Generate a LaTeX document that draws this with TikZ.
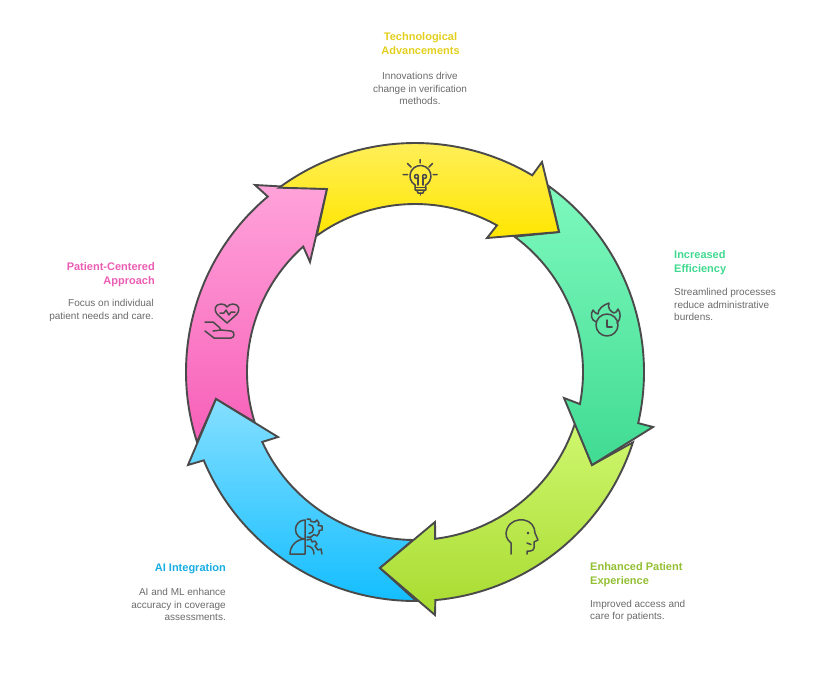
\documentclass[tikz,border=0pt]{standalone}
\usepackage{fontspec}
\setmainfont{Liberation Sans}
\definecolor{edgegray}{HTML}{4A4A4A}
\definecolor{textgray}{HTML}{6A6A6A}
\definecolor{techtitle}{HTML}{E3CF1E}
\definecolor{efftitle}{HTML}{3FD98F}
\definecolor{exptitle}{HTML}{93BF33}
\definecolor{aititle}{HTML}{17ADE3}
\definecolor{cartitle}{HTML}{EA5DB2}
\definecolor{HeadPink}{HTML}{FFA3DA}
\definecolor{TailPink}{HTML}{F75FB8}
\definecolor{HeadBlue}{HTML}{85DFFF}
\definecolor{TailBlue}{HTML}{14BEFF}
\definecolor{HeadLime}{HTML}{CFF76F}
\definecolor{TailLime}{HTML}{A8DB30}
\definecolor{HeadGreen}{HTML}{7EF9BE}
\definecolor{TailGreen}{HTML}{40DB92}
\definecolor{HeadYellow}{HTML}{FFF066}
\definecolor{TailYellow}{HTML}{FFE600}
\tikzset{
         ringarrow/.style={draw=edgegray,line width=1.9pt,line join=miter,miter limit=8},
         icon/.style={draw=edgegray,line width=1.5pt,line cap=round,line join=round},
         titletext/.style={font=\fontsize{11}{14}\selectfont\bfseries,inner sep=0pt},
         bodytext/.style={font=\fontsize{10}{12.6}\selectfont,text=textgray,inner sep=0pt}
        }
\begin{document}
\begin{tikzpicture}[x=1pt,y=-1pt]
\useasboundingbox(0,0)rectangle(840,672);
\begin{scope}[shift={(415,372)}]
% the five arrows of the ring
\draw[ringarrow,top color=HeadPink,bottom color=TailPink](162.2:229)arc[start angle=162.2,end angle=230,radius=229]--(-160,-187)--(-88,-183)--(-105,-110)--(228.3:168)arc[start angle=228.3,end angle=162.6,radius=168]--(-199,27)--cycle;
\draw[ringarrow,top color=HeadBlue,bottom color=TailBlue](89.7:229)arc[start angle=89.7,end angle=157.3,radius=229]--(-227,93)--(-199,27)--(-137,65)--(155.4:168)arc[start angle=155.4,end angle=90.7,radius=168]--(-35,196)--cycle;
\draw[ringarrow,top color=HeadLime,bottom color=TailLime](17.9:229)arc[start angle=17.9,end angle=84.9,radius=229]--(20,243)--(-35,196)--(20,150)--(83.1:168)arc[start angle=83.1,end angle=17.8,radius=168]--(177,93)--cycle;
\draw[ringarrow,top color=HeadGreen,bottom color=TailGreen](-54.4:229)arc[start angle=-54.4,end angle=12.9,radius=229]--(238,55)--(177,93)--(149,26)--(11:168)arc[start angle=11,end angle=-53.7,radius=168]--(144,-140)--cycle;
\draw[ringarrow,top color=HeadYellow,bottom color=TailYellow](-126.4:229)arc[start angle=-126.4,end angle=-59.2,radius=229]--(127,-210)--(144,-140)--(72,-134)--(-60.8:168)arc[start angle=-60.8,end angle=-125.8,radius=168]--(-88,-183)--cycle;
\end{scope}
% lamp
\draw[icon](415.2,185.1)arc[start angle=120,end angle=420,radius=10.5]--(425.8,190)--(415.2,190)--cycle;
\draw[icon](417,190.5)--(418,193)--(423,193)--(424,190.5);
\draw[icon](420.5,193)--(420.5,195);
\draw[icon](418,185)--(418,178)(423,185)--(423,178);
\draw[icon](416.5,176.5)circle[radius=2](424.5,176.5)circle[radius=2];
\draw[icon](415.5,187.5)--(425.5,187.5);
\draw[icon](420,159.5)--(420,163)(407.5,163.5)--(411,167)(432.5,163.5)--(429,167)(403,174.5)--(407.5,174.5)(433,174.5)--(437,174.5);
% flame and clock
\draw[icon](607,325)circle[radius=11];
\draw[icon](607,320)--(607,327)--(612,327);
\draw[icon](596,322)..controls(591,320)and(590,314)..(593,310)..controls(595,313)and(597,314)..(598,314)..controls(598,309)and(603,305)..(609,303)..controls(607,308)and(611,312)..(614,313)..controls(616,313)and(617,311)..(618,309)..controls(621,313)and(621,319)..(617,323);
% head
\draw[icon](511,554)--(511,543)..controls(506,539)and(505,534)..(507,529)..controls(510,521)and(518,519)..(524,520)..controls(531,521)and(535,527)..(535,533)--(538,540)--(534,542)--(534,548)..controls(534,550)and(532,551)..(530,551)--(527,551)--(527,554);
\draw[icon](528,533)circle[radius=.7];
\draw[icon](527,543)--(531,544.5);
% half head and gears
\draw[icon](305,520)arc[start angle=-90,end angle=-270,radius=9.5]--cycle;
\draw[icon](290,554)arc[start angle=180,end angle=270,radius=15]--(305,554)--cycle;
\draw[icon](307,519)--(310,519)--(311,521.5)--(315,522)--(317,520)--(319,523)--(318,525.5)--(322,526)--(322,530)--(319,530.5)--(319,533)--(317,536)--(314,534.5)--(311,537)--(307,537);
\draw[icon](309,524.5)arc[start angle=-90,end angle=90,radius=4.5];
\draw[icon](307,540)--(311,539)--(312,542)--(315,541)--(317,544)--(315,546)--(318,550)--(321,549)--(322,554);
\draw[icon](307,546)..controls(311,546)and(314,549)..(314,554);
% heart on a hand
\draw[icon](227,323)--(218,315)..controls(213,310)and(215,304)..(221,304)..controls(224,304)and(226,305)..(227,307)..controls(228,305)and(231,304)..(233,304)..controls(239,304)and(241,310)..(236,315)--cycle;
\draw[icon](220,313)--(224,313)--(226,310)--(229,315)--(231,312)--(235,312);
\draw[icon](205,322)--(213,322)--(219,327)--(221,330)--(231,331)..controls(235,331)and(235,338)..(231,338)--(214,338)--(205,331);
\draw[icon](213,331)--(221,330);
% texts
\node[titletext,text=techtitle,align=center](techhead)at(420.5,44){Technological\\Advancements};
\node[bodytext,align=center](techbody)at(420,88.5){Innovations drive\\change in verification\\methods.};
\node[titletext,text=efftitle,align=left,anchor=west](effhead)at(674,263){Increased\\Efficiency};
\node[bodytext,align=left,anchor=west](effbody)at(674,304.5){Streamlined processes\\reduce administrative\\burdens.};
\node[titletext,text=exptitle,align=left,anchor=west](exphead)at(590,575){Enhanced Patient\\Experience};
\node[bodytext,align=left,anchor=west](expbody)at(590,611){Improved access and\\care for patients.};
\node[titletext,text=aititle,align=right,anchor=east](aihead)at(226,569){AI Integration};
\node[bodytext,align=right,anchor=east](aibody)at(226,604.5){AI and ML enhance\\accuracy in coverage\\assessments.};
\node[titletext,text=cartitle,align=right,anchor=east](carehead)at(155,275){Patient-Centered\\Approach};
\node[bodytext,align=right,anchor=east](carebody)at(154,310.5){Focus on individual\\patient needs and care.};
\end{tikzpicture}
\end{document}
